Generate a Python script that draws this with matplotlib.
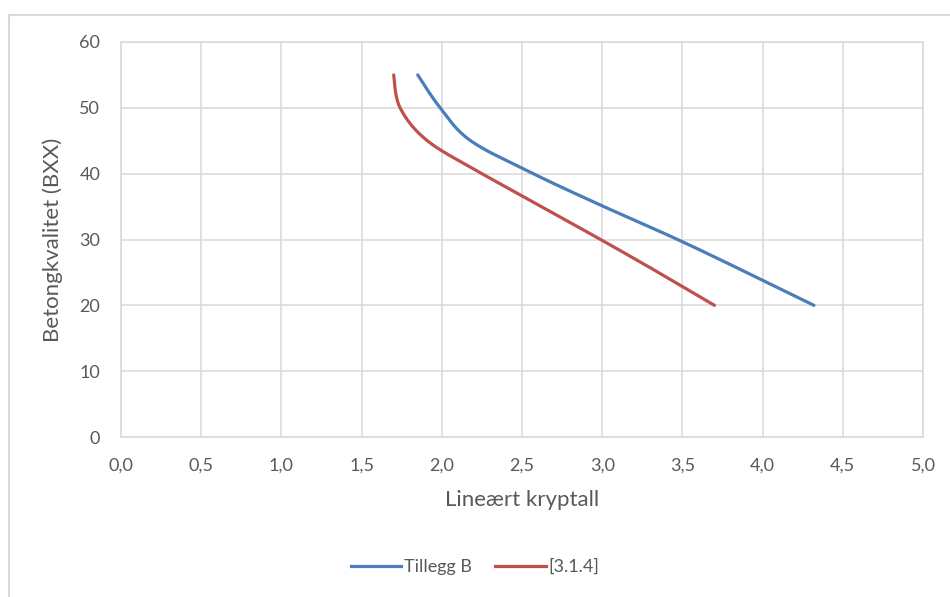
import numpy as np
import matplotlib
matplotlib.use("Agg")
import matplotlib.pyplot as plt
from matplotlib.lines import Line2D

# Concrete grade (B20 ... B55) against linear creep coefficient
grades = [20, 25, 30, 35, 40, 45, 50, 55]
creep_tillegg_b = [4.32, 3.90, 3.47, 3.01, 2.57, 2.18, 1.99, 1.85]
creep_314 = [3.70, 3.35, 2.99, 2.62, 2.25, 1.91, 1.74, 1.70]

series_names = ["Tillegg B", "[3.1.4]"]
series_colors = ["#4A7EBB", "#C0504D"]
x_ticks = [0.0, 0.5, 1.0, 1.5, 2.0, 2.5, 3.0, 3.5, 4.0, 4.5, 5.0]
y_ticks = [0, 10, 20, 30, 40, 50, 60]

plt.rcParams["font.family"] = ["Lato", "DejaVu Sans"]

text_color = "#595959"
grid_color = "#D9D9D9"

fig = plt.figure(figsize=(9.5, 5.97), dpi=100)
W, H = 950, 597
ax = fig.add_axes([121 / W, 1 - 437 / H, (923 - 121) / W, (437 - 42) / H])

ax.set_xlim(0, 5)
ax.set_ylim(0, 60)
ax.set_xticks(x_ticks)
ax.set_yticks(y_ticks)
ax.set_xticklabels([f"{v:.1f}".replace(".", ",") for v in x_ticks])
ax.set_yticklabels([str(v) for v in y_ticks])
ax.grid(True, color=grid_color, linewidth=1.1)
ax.set_axisbelow(True)
for s in ax.spines.values():
    s.set_color(grid_color)
    s.set_linewidth(1.1)
ax.tick_params(length=0, colors=text_color, labelsize=13)
ax.tick_params(axis="y", pad=15)
ax.tick_params(axis="x", pad=15)


def smooth(xs, ys, n=30):
    """Spreadsheet-style smoothed line: cubic Bezier through the points,
    computed in display space so the curvature looks right on screen."""
    pts = ax.transData.transform(np.column_stack([xs, ys]))
    out = [pts[0]]
    m = len(pts)
    t = np.linspace(0, 1, n)[1:, None]
    for i in range(m - 1):
        p0 = pts[max(i - 1, 0)]
        p1 = pts[i]
        p2 = pts[i + 1]
        p3 = pts[min(i + 2, m - 1)]
        c1 = p1 + (p2 - p0) / 6
        c2 = p2 - (p3 - p1) / 6
        seg = ((1 - t) ** 3) * p1 + 3 * ((1 - t) ** 2) * t * c1 + 3 * (1 - t) * t ** 2 * c2 + t ** 3 * p2
        out.extend(seg)
    data = ax.transData.inverted().transform(np.array(out))
    return data[:, 0], data[:, 1]


for xs, name, color in zip([creep_tillegg_b, creep_314], series_names, series_colors):
    sx, sy = smooth(xs, grades)
    ax.plot(sx, sy, color=color, linewidth=2.3, label=name,
            solid_capstyle="round", clip_on=False)

ax.set_xlabel("Lineært kryptall", fontsize=16, color=text_color, labelpad=12)
ax.set_ylabel("Betongkvalitet (BXX)", fontsize=16, color=text_color, labelpad=12)

handles = [Line2D([], [], color=c, linewidth=2.3) for c in series_colors]
fig.legend(handles, series_names, loc="center", bbox_to_anchor=(0.5, 1 - 567 / H),
           ncol=2, frameon=False, fontsize=13, labelcolor=text_color,
           handlelength=2.8, handletextpad=0.15, columnspacing=1.3)

# outer chart frame (top and left edges)
fig.add_artist(Line2D([8.5 / W, 1.0], [1 - 15 / H, 1 - 15 / H], transform=fig.transFigure,
                      color=grid_color, linewidth=1.5))
fig.add_artist(Line2D([8.5 / W, 8.5 / W], [0.0, 1 - 15 / H], transform=fig.transFigure,
                      color=grid_color, linewidth=1.5))

fig.savefig("out.png", dpi=100, facecolor="white")
